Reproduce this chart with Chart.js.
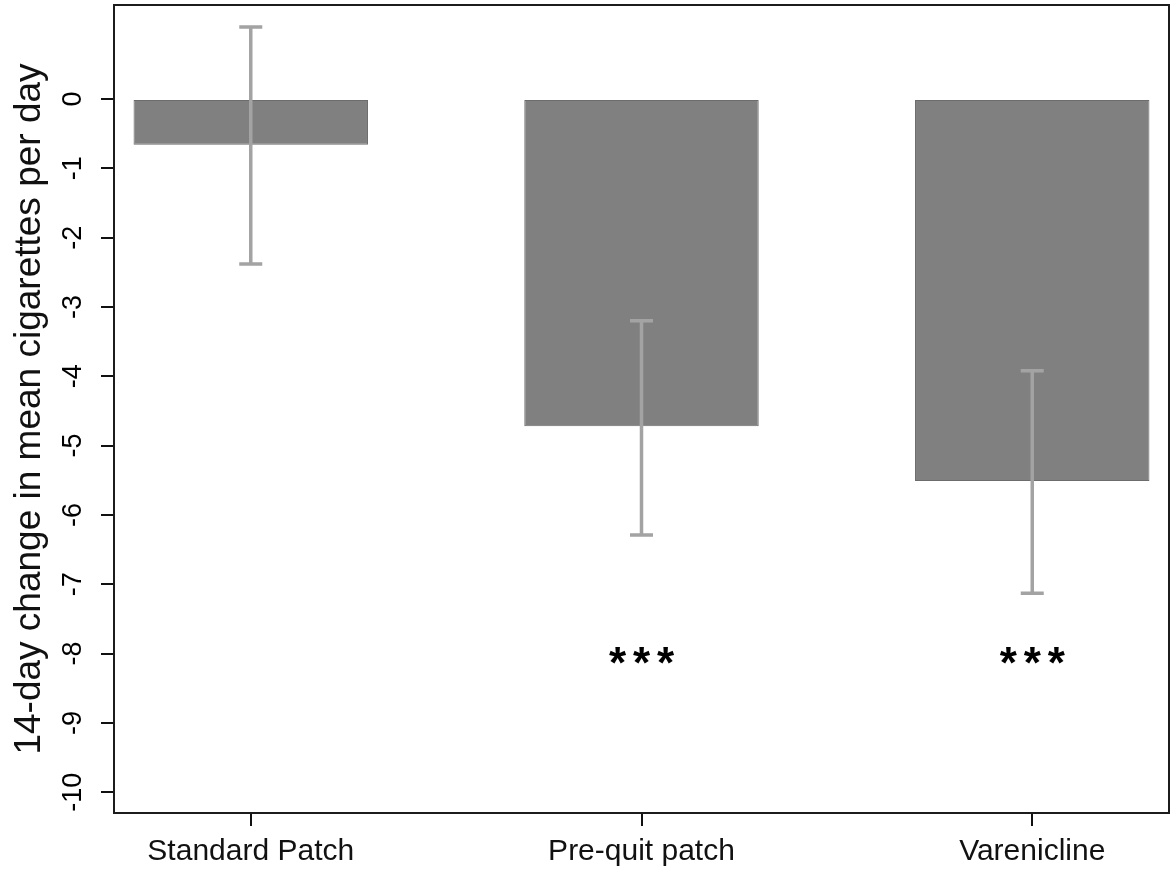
<!DOCTYPE html>
<html>
<head>
<meta charset="utf-8">
<script src="https://cdn.jsdelivr.net/npm/chart.js@4/dist/chart.umd.min.js"></script>
<style>
  html, body { margin: 0; padding: 0; background: #ffffff; }
  #wrap { width: 1173px; height: 871px; }
</style>
</head>
<body>
<div id="wrap"><canvas id="chart" width="1173" height="871"></canvas></div>
<script>
// Treatment groups and their mean 14-day change in cigarettes per day
const groups = ["Standard Patch", "Pre-quit patch", "Varenicline"];
const meanChange = [-0.66, -4.72, -5.51];
// 95% confidence limits
const ciLower = [-2.38, -6.29, -7.13];
const ciUpper = [1.04, -3.20, -3.92];
// Significance markers, placed at y = -8
const sigMarks = ["", "***", "***"];
const sigLevel = -8;
// Y axis tick values
const yTicks = [0, -1, -2, -3, -4, -5, -6, -7, -8, -9, -10];

const FONT = '"Liberation Sans", Arial, sans-serif';
const groupPos = groups.map((g, i) => i + 1);

const whiteBg = {
  id: 'whiteBg',
  beforeDraw(chart) {
    const ctx = chart.ctx;
    ctx.save();
    ctx.fillStyle = '#ffffff';
    ctx.fillRect(0, 0, chart.width, chart.height);
    ctx.restore();
  }
};

// Confidence interval whiskers with caps
const errorBars = {
  id: 'errorBars',
  afterDatasetsDraw(chart) {
    const ctx = chart.ctx;
    const xs = chart.scales.x, ys = chart.scales.y;
    ctx.save();
    ctx.strokeStyle = '#a3a3a3';
    ctx.lineCap = 'butt';
    ctx.lineWidth = 3.5;
    groupPos.forEach((p, i) => {
      const x = xs.getPixelForValue(p);
      const yTop = ys.getPixelForValue(ciUpper[i]);
      const yBot = ys.getPixelForValue(ciLower[i]);
      ctx.beginPath();
      ctx.moveTo(x, yTop);
      ctx.lineTo(x, yBot);
      ctx.moveTo(x - 11.5, yTop);
      ctx.lineTo(x + 11.5, yTop);
      ctx.moveTo(x - 11.5, yBot);
      ctx.lineTo(x + 11.5, yBot);
      ctx.stroke();
    });
    ctx.restore();
  }
};

// Significance asterisks, frame and rotated y tick labels
const annotations = {
  id: 'annotations',
  afterDraw(chart) {
    const ctx = chart.ctx;
    const xs = chart.scales.x, ys = chart.scales.y;
    const area = chart.chartArea;
    ctx.save();

    // asterisks
    ctx.fillStyle = '#000000';
    ctx.font = 'bold 44px ' + FONT;
    ctx.textAlign = 'center';
    ctx.textBaseline = 'alphabetic';
    groupPos.forEach((p, i) => {
      const mark = sigMarks[i];
      if (!mark) return;
      const cx = xs.getPixelForValue(p);
      const cy = ys.getPixelForValue(sigLevel) + 24;
      const n = mark.length;
      for (let k = 0; k < n; k++) {
        ctx.fillText(mark[k], cx + (k - (n - 1) / 2) * 24, cy);
      }
    });

    // plot frame
    ctx.strokeStyle = '#1c1c1c';
    ctx.lineWidth = 2;
    ctx.strokeRect(area.left, area.top, area.right - area.left, area.bottom - area.top);

    // y tick labels, reading upward
    ctx.fillStyle = '#000000';
    ctx.font = '27px ' + FONT;
    ctx.textAlign = 'center';
    ctx.textBaseline = 'alphabetic';
    ys.ticks.forEach(t => {
      const py = ys.getPixelForValue(t.value);
      ctx.save();
      ctx.translate(81, py);
      ctx.rotate(-Math.PI / 2);
      ctx.fillText(String(t.value), 0, 0);
      ctx.restore();
    });
    ctx.restore();
  }
};

new Chart(document.getElementById('chart'), {
  type: 'bar',
  data: {
    datasets: [{
      data: groupPos.map((p, i) => ({ x: p, y: meanChange[i] })),
      backgroundColor: '#808080',
      borderColor: '#6c6c6c',
      borderWidth: 1,
      borderSkipped: false,
      barPercentage: 0.6,
      categoryPercentage: 1.0
    }]
  },
  options: {
    responsive: false,
    animation: false,
    devicePixelRatio: 1,
    layout: { padding: { top: 5, right: 4, left: 0, bottom: 0 } },
    plugins: {
      legend: { display: false },
      tooltip: { enabled: false },
      title: { display: false }
    },
    scales: {
      x: {
        type: 'linear',
        offset: false,
        min: 0.65,
        max: 3.35,
        afterBuildTicks(scale) {
          scale.ticks = groupPos.map(v => ({ value: v }));
        },
        afterFit(scale) { scale.height = 58; },
        grid: {
          offset: false,
          drawOnChartArea: false,
          drawTicks: true,
          tickLength: 13,
          color: '#111111',
          lineWidth: 2
        },
        border: { display: false },
        ticks: {
          padding: 8,
          color: '#111111',
          font: { family: FONT, size: 30 },
          maxRotation: 0,
          autoSkip: false,
          callback(value) {
            const i = groupPos.indexOf(value);
            return i >= 0 ? groups[i] : '';
          }
        }
      },
      y: {
        type: 'linear',
        min: -10.30,
        max: 1.356,
        afterBuildTicks(scale) {
          scale.ticks = yTicks.map(v => ({ value: v }));
        },
        afterFit(scale) { scale.width = 114; },
        grid: {
          drawOnChartArea: false,
          drawTicks: true,
          tickLength: 13,
          color: '#111111',
          lineWidth: 2
        },
        border: { display: false },
        ticks: { display: false },
        title: {
          display: true,
          text: '14-day change in mean cigarettes per day',
          color: '#111111',
          font: { family: FONT, size: 37, lineHeight: 1.2 },
          padding: { top: 8, bottom: 0 }
        }
      }
    }
  },
  plugins: [whiteBg, errorBars, annotations]
});
</script>
</body>
</html>
